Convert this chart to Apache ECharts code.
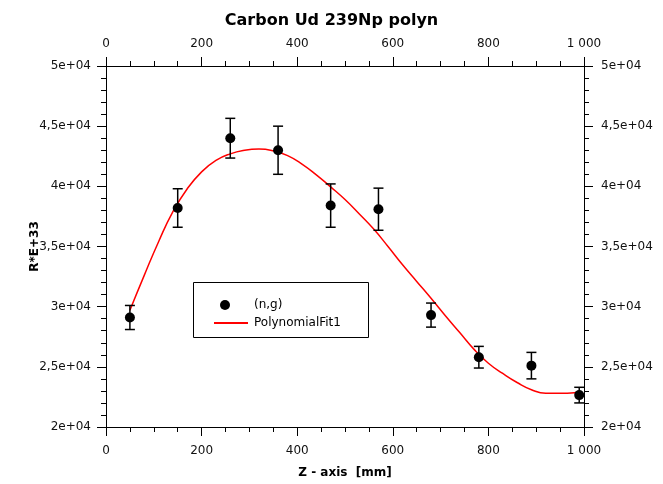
<!DOCTYPE html>
<html><head><meta charset="utf-8">
<script src="https://cdn.jsdelivr.net/npm/echarts@6/dist/echarts.min.js"></script>
<style>html,body{margin:0;padding:0;background:#fff}#c{width:663px;height:484px}</style>
</head><body><div id="c"></div>
<script>
// Measured points (n,g)
const pointX = [50, 150, 260, 360, 470, 570, 680, 780, 890, 990];
const pointY = [29100, 38200, 44000, 43000, 38400, 38100, 29300, 25800, 25100, 22650];
const pointErr = [1000, 1600, 1650, 2000, 1800, 1750, 1000, 900, 1100, 650];
// Polynomial fit curve
const fitX = [50, 80, 110, 140, 170, 200, 230, 260, 290, 320, 350, 380, 410, 440, 470, 500, 530, 560, 590, 620, 650, 680, 710, 740, 770, 800, 830, 860, 890, 920, 950, 980, 990];
const fitY = [29700, 32600, 35400, 37900, 39800, 41200, 42150, 42700, 43000, 43100, 42950, 42550, 41850, 40950, 39950, 38900, 37700, 36450, 35000, 33500, 32100, 30700, 29250, 27850, 26450, 25300, 24450, 23700, 23100, 22800, 22800, 22850, 22950];
// Tick labels
const xTickValues = [0, 200, 400, 600, 800, 1000];
const xTickLabels = ['0', '200', '400', '600', '800', '1 000'];
const yTickValues = [20000, 25000, 30000, 35000, 40000, 45000, 50000];
const yTickLabels = ['2e+04', '2,5e+04', '3e+04', '3,5e+04', '4e+04', '4,5e+04', '5e+04'];

const FONT = 'DejaVu Sans';
const fmtX = v => { const i = xTickValues.indexOf(v); return i >= 0 ? xTickLabels[i] : ''; };
const fmtY = v => { const i = yTickValues.indexOf(v); return i >= 0 ? yTickLabels[i] : ''; };

const chart = echarts.init(document.getElementById('c'), null, {renderer: 'canvas'});
const axisCommon = {
  axisLine: {show: true, onZero: false, lineStyle: {color: '#000', width: 1}},
  axisTick: {show: true, inside: false, length: 9, lineStyle: {color: '#000'}},
  minorTick: {show: true, splitNumber: 4, length: 5, lineStyle: {color: '#000'}},
  splitLine: {show: false},
  axisLabel: {color: '#111', fontFamily: FONT, fontSize: 12}
};
const xAxisBase = Object.assign({}, axisCommon, {type: 'value', min: 0, max: 1000, interval: 200});
const yAxisBase = Object.assign({}, axisCommon, {type: 'value', min: 20000, max: 50000, interval: 5000,
  minorTick: {show: true, splitNumber: 5, length: 5, lineStyle: {color: '#000'}}});

const errData = pointX.map((x, i) => [x, pointY[i] - pointErr[i], pointY[i] + pointErr[i]]);

chart.setOption({
  animation: false,
  title: {text: 'Carbon Ud 239Np polyn', left: 'center', top: 8,
    textStyle: {fontFamily: FONT, fontSize: 16, fontWeight: 'bold', color: '#000'}},
  grid: {left: 106, right: 79, top: 66, bottom: 57},
  legend: [{
    data: [{name: '(n,g)', icon: 'circle'}],
    left: 215, top: 294, itemWidth: 10, itemHeight: 10, itemGap: 0,
    textStyle: {fontFamily: FONT, fontSize: 12, color: '#000', padding: [0, 0, 0, 19]}
  }, {
    data: [{name: 'PolynomialFit1', icon: 'rect'}],
    left: 209, top: 312, itemWidth: 34, itemHeight: 2, itemGap: 0,
    textStyle: {fontFamily: FONT, fontSize: 12, color: '#000', padding: [0, 0, 0, 1]}
  }],
  graphic: [{type: 'rect', shape: {x: 193.5, y: 282.5, width: 175, height: 55},
    style: {fill: 'none', stroke: '#000', lineWidth: 1}, z: 10}],
  xAxis: [
    Object.assign({}, xAxisBase, {position: 'bottom', name: 'Z - axis  [mm]', nameLocation: 'middle', nameGap: 40,
      nameTextStyle: {fontFamily: FONT, fontSize: 12, fontWeight: 'bold', color: '#000'},
      axisLabel: Object.assign({}, axisCommon.axisLabel, {formatter: fmtX, margin: 18})}),
    Object.assign({}, xAxisBase, {position: 'top',
      axisLabel: Object.assign({}, axisCommon.axisLabel, {formatter: fmtX, margin: 16})})
  ],
  yAxis: [
    Object.assign({}, yAxisBase, {position: 'left', name: 'R*E+33', nameLocation: 'middle', nameGap: 65,
      nameMoveOverlap: false,
      nameTextStyle: {fontFamily: FONT, fontSize: 12, fontWeight: 'bold', color: '#000'},
      axisLabel: Object.assign({}, axisCommon.axisLabel, {formatter: fmtY, margin: 15})}),
    Object.assign({}, yAxisBase, {position: 'right',
      axisLabel: Object.assign({}, axisCommon.axisLabel, {formatter: fmtY, margin: 17})})
  ],
  series: [
    {
      name: 'PolynomialFit1', type: 'line', xAxisIndex: 0, yAxisIndex: 0,
      data: fitX.map((x, i) => [x, fitY[i]]), smooth: true, showSymbol: false, symbol: 'none',
      lineStyle: {color: '#ff0000', width: 1.5}, itemStyle: {color: '#ff0000'}, z: 2
    },
    {
      name: 'errbars', type: 'custom', xAxisIndex: 0, yAxisIndex: 0, data: errData, z: 3,
      renderItem: function (params, api) {
        const top = api.coord([api.value(0), api.value(2)]);
        const bot = api.coord([api.value(0), api.value(1)]);
        const w = 5;
        const st = {stroke: '#000', lineWidth: 1.5};
        return {type: 'group', children: [
          {type: 'line', shape: {x1: top[0], y1: top[1], x2: bot[0], y2: bot[1]}, style: st},
          {type: 'line', shape: {x1: top[0] - w, y1: top[1], x2: top[0] + w, y2: top[1]}, style: st},
          {type: 'line', shape: {x1: bot[0] - w, y1: bot[1], x2: bot[0] + w, y2: bot[1]}, style: st}
        ]};
      }
    },
    {
      name: '(n,g)', type: 'scatter', xAxisIndex: 0, yAxisIndex: 0,
      data: pointX.map((x, i) => [x, pointY[i]]), symbol: 'circle', symbolSize: 10,
      itemStyle: {color: '#000', opacity: 1}, z: 4
    }
  ]
});
</script></body></html>
